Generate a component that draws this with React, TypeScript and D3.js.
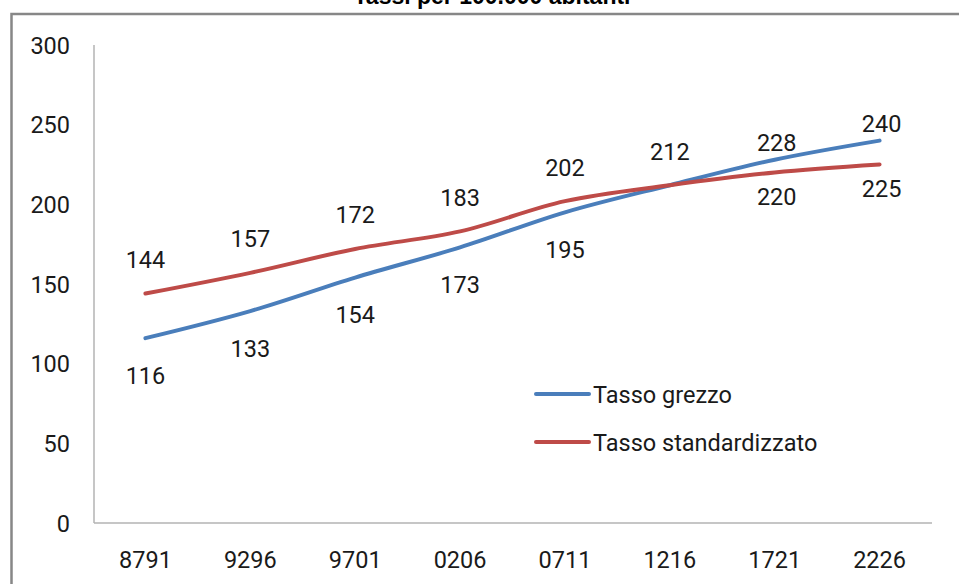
import React, { useRef, useEffect } from 'react';
import * as d3 from 'd3';

// periods on the x axis
const periods = ['8791', '9296', '9701', '0206', '0711', '1216', '1721', '2226'];
// rates per 100,000
const tassoGrezzo = [116, 133, 154, 173, 195, 212, 228, 240];
const tassoStandard = [144, 157, 172, 183, 202, 212, 220, 225];
const yTicks = [0, 50, 100, 150, 200, 250, 300];

// where each value label sits relative to its point
const grezzoLabelPos = ['below', 'below', 'below', 'below', 'below', 'above', 'nearAbove', 'nearAbove'];
const standardLabelPos = ['above', 'above', 'above', 'above', 'above', 'above', 'nearBelow', 'nearBelow'];

const W = 959;
const H = 584;
const FONT = 'Roboto, "Open Sans", sans-serif';
const FS = 23.5;

function App() {
  const ref = useRef<SVGSVGElement>(null);

  useEffect(() => {
    const svg = d3.select(ref.current);
    svg.selectAll('*').remove();

    const x = d3.scaleBand().domain(periods).range([93, 932]);
    const y = d3.scaleLinear().domain([0, 300]).range([523, 45]);
    const cx = (p: string) => (x(p) as number) + x.bandwidth() / 2;

    // outer frame
    svg.append('rect')
      .attr('x', 11.5).attr('y', 14)
      .attr('width', 980).attr('height', 600)
      .attr('fill', 'white')
      .attr('stroke', '#878787').attr('stroke-width', 2.5);

    // title (cut at the top edge, as in the original)
    svg.append('text')
      .attr('x', 492).attr('y', 4)
      .attr('text-anchor', 'middle')
      .attr('font-family', '"Liberation Sans", Arial, sans-serif')
      .attr('font-weight', 'bold')
      .attr('font-size', 23)
      .text('Tassi per 100.000 abitanti');

    // axes lines
    svg.append('line')
      .attr('x1', 94).attr('x2', 94).attr('y1', y(300)).attr('y2', y(0))
      .attr('stroke', '#b3b3b3').attr('stroke-width', 1.5);
    svg.append('line')
      .attr('x1', 94).attr('x2', 932).attr('y1', y(0)).attr('y2', y(0))
      .attr('stroke', '#b3b3b3').attr('stroke-width', 1.5);

    svg.append('g')
      .selectAll('text')
      .data(yTicks)
      .enter().append('text')
      .attr('x', 70)
      .attr('y', d => y(d) + 8.5)
      .attr('text-anchor', 'end')
      .attr('font-family', FONT)
      .attr('font-size', FS)
      .attr('fill', '#1a1a1a')
      .text(d => d);

    svg.append('g')
      .selectAll('text')
      .data(periods)
      .enter().append('text')
      .attr('x', d => cx(d))
      .attr('y', 568)
      .attr('text-anchor', 'middle')
      .attr('font-family', FONT)
      .attr('font-size', FS)
      .attr('fill', '#1a1a1a')
      .text(d => d);

    const series = [
      { name: 'Tasso grezzo', values: tassoGrezzo, color: '#4a7ebb', pos: grezzoLabelPos },
      { name: 'Tasso standardizzato', values: tassoStandard, color: '#be4b48', pos: standardLabelPos },
    ];

    const line = d3.line<number>()
      .x((_, i) => cx(periods[i]))
      .y(d => y(d))
      .curve(d3.curveCatmullRom.alpha(0.5));

    const offsets: Record<string, number> = { above: -34, below: 37, nearAbove: -17, nearBelow: 24 };

    series.forEach(s => {
      svg.append('path')
        .attr('d', line(s.values))
        .attr('fill', 'none')
        .attr('stroke', s.color)
        .attr('stroke-width', 4)
        .attr('stroke-linecap', 'round');
    });

    series.forEach((s, si) => {
      svg.append('g')
        .selectAll('text')
        // a label already drawn at the same spot by the other series is skipped
        .data(s.values.map((v, i) => ({ v, i })).filter(d =>
          !(si === 1 && s.pos[d.i] === series[0].pos[d.i] && series[0].values[d.i] === d.v)))
        .enter().append('text')
        .attr('x', d => cx(periods[d.i]) + (s.pos[d.i].startsWith('near') ? 2 : 0))
        .attr('y', d => y(d.v) + offsets[s.pos[d.i]] + 8.5)
        .attr('text-anchor', 'middle')
        .attr('font-family', FONT)
        .attr('font-size', FS)
        .attr('fill', '#1a1a1a')
        .text(d => d.v);
    });

    // legend
    const legend = svg.append('g');
    series.forEach((s, i) => {
      const ly = 394 + i * 48;
      legend.append('line')
        .attr('x1', 536).attr('x2', 589).attr('y1', ly).attr('y2', ly)
        .attr('stroke', s.color).attr('stroke-width', 4).attr('stroke-linecap', 'round');
      legend.append('text')
        .attr('x', 593).attr('y', ly + 8.5)
        .attr('font-family', FONT)
        .attr('font-size', FS)
        .attr('fill', '#1a1a1a')
        .text(s.name);
    });
  }, []);

  return (
    <svg ref={ref} width={W} height={H} style={{ position: 'absolute', left: 0, top: 0 }}></svg>
  );
}

export default App;
